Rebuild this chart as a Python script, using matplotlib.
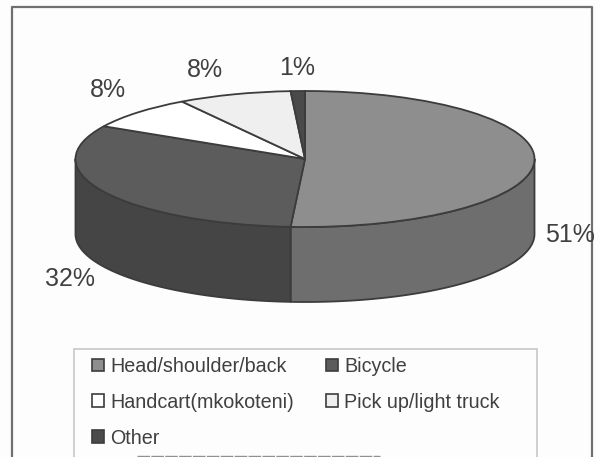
import numpy as np
import matplotlib
matplotlib.use("Agg")
import matplotlib.pyplot as plt
from matplotlib.patches import Wedge, Rectangle, Patch
from matplotlib.transforms import Affine2D

plt.rcParams['font.family'] = ['Liberation Sans', 'DejaVu Sans']

categories = ['Head/shoulder/back', 'Bicycle', 'Handcart(mkokoteni)', 'Pick up/light truck', 'Other']
values = [51, 32, 8, 8, 1]
top_colors = ['#8e8e8e', '#5c5c5c', '#ffffff', '#efefef', '#4a4a4a']
side_colors = ['#6e6e6e', '#454545', '#d0d0d0', '#c0c0c0', '#333333']
label_pos = [(570, 235), (70, 279), (108, 90), (205, 70), (297, 68)]
edge = '#3c3c3c'
text_c = '#404040'

CX, CY, A, B, DEPTH = 305, 159, 229.5, 68, 75

fig = plt.figure(figsize=(6, 4.57), dpi=100, facecolor='#fdfdfd')
ax = fig.add_axes([0, 0, 1, 1])
ax.set_xlim(0, 600)
ax.set_ylim(457, 0)
ax.axis('off')

# outer frame (image is cropped at the bottom)
ax.plot([11.5, 11.5, 592, 592], [457, 7, 7, 457], color='#707070', lw=1.6, clip_on=True)
ax.plot([137, 380], [456, 456], color='#909090', lw=1.0, ls=(0, (9, 1)))

# slice angles, clockwise from north
edges = np.concatenate([[0], np.cumsum(values)]) / sum(values) * 360

# rim of the pie: only the front half is visible
for i in range(len(values)):
    t0, t1 = max(edges[i], 90), min(edges[i + 1], 270)
    if t1 <= t0:
        continue
    t = np.radians(np.linspace(t0, t1, 120))
    x = CX + A * np.sin(t)
    y = CY - B * np.cos(t)
    ax.fill(np.r_[x, x[::-1]], np.r_[y, y[::-1] + DEPTH],
            fc=side_colors[i], ec=edge, lw=1.3, joinstyle='round', zorder=2)

# top face
tr = Affine2D().scale(A, -B).translate(CX, CY) + ax.transData
for i in range(len(values)):
    w = Wedge((0, 0), 1, 90 - edges[i + 1], 90 - edges[i], fc=top_colors[i],
              ec=edge, lw=1.3, transform=tr, zorder=3)
    ax.add_patch(w)

# percent labels
for v, (x, y) in zip(values, label_pos):
    ax.text(x, y, f'{v}%', fontsize=18, color=text_c, ha='center', va='center', zorder=4)

# legend
ax.add_patch(Rectangle((74, 349), 463, 120, fc='#fdfdfd', ec='#c8c8c8', lw=1.2, zorder=1))
order = [0, 2, 4, 1, 3]
handles = [Patch(fc=top_colors[i], ec=edge, lw=1.2, label=categories[i]) for i in order]
ax.legend(handles=handles, ncol=2, frameon=False, loc='upper left',
          bbox_to_anchor=(92, 357), bbox_transform=ax.transData, borderaxespad=0, borderpad=0,
          fontsize=14.2, labelcolor=text_c, handlelength=0.62, handleheight=0.62, handletextpad=0.32,
          labelspacing=0.85, columnspacing=1.6)

fig.savefig('out.png', dpi=100, facecolor=fig.get_facecolor())
